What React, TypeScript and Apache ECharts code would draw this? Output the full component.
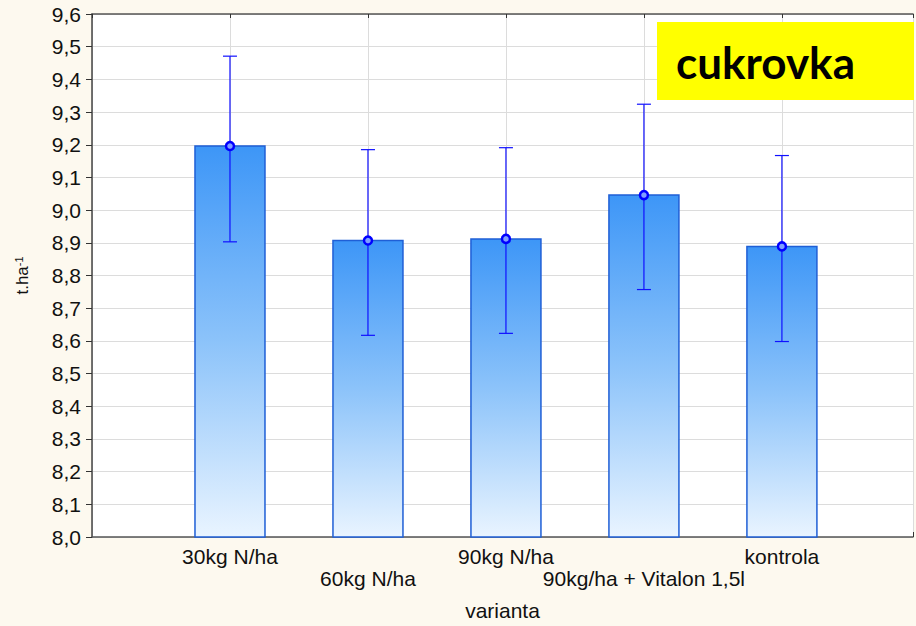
import React, { useEffect, useRef } from 'react';
import * as echarts from 'echarts';

const categories = ['30kg N/ha', '60kg N/ha', '90kg N/ha', '90kg/ha + Vitalon 1,5l', 'kontrola'];
const means = [9.196, 8.907, 8.912, 9.046, 8.889];
const lower = [8.903, 8.617, 8.623, 8.757, 8.598];
const upper = [9.471, 9.185, 9.191, 9.324, 9.167];
const yMin = 8.0;
const yMax = 9.6;
const yStep = 0.1;
const titleText = 'cukrovka';
const yName = 't.ha';
const xName = 'varianta';

const FONT = '"Liberation Sans", Arial, sans-serif';

export default function App() {
  const ref = useRef<HTMLDivElement>(null);
  useEffect(() => {
    if (!ref.current) return;
    const chart = echarts.init(ref.current, null, { renderer: 'svg' });
    const barData = categories.map((c, i) => [i + 1, means[i]]);
    const errData = categories.map((c, i) => [i + 1, lower[i], upper[i]]);
    const option: any = {
      animation: false,
      backgroundColor: '#fdf9ef',
      textStyle: { fontFamily: FONT },
      grid: { left: 92, top: 14, right: 0, bottom: 88, show: true, backgroundColor: '#ffffff', borderWidth: 0 },
      xAxis: [
        {
          type: 'value',
          min: 0,
          max: 5.95,
          interval: 1,
          name: xName,
          nameLocation: 'middle',
          nameGap: 63,
          nameTextStyle: { fontSize: 21, color: '#111', fontFamily: FONT },
          axisLine: { show: true, lineStyle: { color: '#555', width: 1.5 } },
          axisTick: { show: true, inside: true, length: 5, lineStyle: { color: '#333' } },
          splitLine: { show: true, lineStyle: { color: '#dcdcdc', width: 1 } },
          axisLabel: {
            show: true,
            fontSize: 21,
            color: '#111',
            fontFamily: FONT,
            margin: 8,
            lineHeight: 22,
            showMinLabel: false,
            formatter: (v: number) => {
              const i = Math.round(v) - 1;
              if (i < 0 || i >= categories.length) return '';
              return i % 2 === 1 ? '\n' + categories[i] : categories[i];
            },
          },
        },
        {
          type: 'value',
          position: 'top',
          min: 0,
          max: 5.95,
          interval: 1,
          axisLine: { show: true, lineStyle: { color: '#555', width: 1.5 } },
          axisTick: { show: true, inside: true, length: 4, lineStyle: { color: '#333' } },
          splitLine: { show: false },
          axisLabel: { show: false },
        },
      ],
      yAxis: {
        type: 'value',
        min: yMin,
        max: yMax,
        interval: yStep,
        name: yName + '{sup|-1}',
        nameLocation: 'middle',
        nameGap: 60,
        nameRotate: 90,
        nameTextStyle: {
          fontSize: 17,
          color: '#111',
          fontFamily: FONT,
          rich: { sup: { fontSize: 11, verticalAlign: 'top', padding: [0, 0, 8, 0], color: '#111', fontFamily: FONT } },
        },
        axisLine: { show: true, lineStyle: { color: '#444', width: 1.5 } },
        axisTick: { show: true, inside: false, length: 6, lineStyle: { color: '#333' } },
        splitLine: { show: true, lineStyle: { color: '#dcdcdc', width: 1.2 } },
        axisLabel: {
          fontSize: 21,
          color: '#111',
          fontFamily: FONT,
          margin: 11,
          formatter: (v: number) => v.toFixed(1).replace('.', ','),
        },
      },
      series: [
        {
          type: 'custom',
          data: barData,
          z: 2,
          renderItem: (params: any, api: any) => {
            const x = api.value(0);
            const v = api.value(1);
            const top = api.coord([x, v]);
            const base = api.coord([x, yMin]);
            const w = 70;
            return {
              type: 'rect',
              shape: { x: top[0] - w / 2, y: top[1], width: w, height: base[1] - top[1] },
              style: {
                fill: new echarts.graphic.LinearGradient(0, 0, 0, 1, [
                  { offset: 0, color: '#3d96f7' },
                  { offset: 0.5, color: '#8cc3fa' },
                  { offset: 1, color: '#e9f4ff' },
                ]),
                stroke: '#1f5fd6',
                lineWidth: 1.5,
              },
            };
          },
        },
        {
          type: 'custom',
          data: errData,
          z: 3,
          renderItem: (params: any, api: any) => {
            const x = api.value(0);
            const lo = api.coord([x, api.value(1)]);
            const hi = api.coord([x, api.value(2)]);
            const cw = 7;
            const st = { stroke: '#1010ff', lineWidth: 1.2 };
            return {
              type: 'group',
              children: [
                { type: 'line', shape: { x1: lo[0], y1: lo[1], x2: hi[0], y2: hi[1] }, style: st },
                { type: 'line', shape: { x1: lo[0] - cw, y1: lo[1], x2: lo[0] + cw, y2: lo[1] }, style: st },
                { type: 'line', shape: { x1: hi[0] - cw, y1: hi[1], x2: hi[0] + cw, y2: hi[1] }, style: st },
              ],
            };
          },
        },
        {
          type: 'scatter',
          data: barData,
          z: 4,
          symbol: 'circle',
          symbolSize: 8,
          itemStyle: { color: '#7f9fff', borderColor: '#0000ff', borderWidth: 2.5, opacity: 1 },
        },
      ],
      graphic: [
        {
          type: 'rect',
          shape: { x: 657, y: 22, width: 257, height: 78 },
          style: { fill: '#ffff00' },
          z: 10,
        },
        {
          type: 'text',
          x: 676,
          y: 62,
          z: 11,
          style: {
            text: titleText,
            fill: '#000',
            font: 'bold 44px Lato, "Open Sans", sans-serif',
            verticalAlign: 'middle',
          },
        },
      ],
    };
    chart.setOption(option);
    return () => chart.dispose();
  }, []);
  return <div ref={ref} style={{ position: 'absolute', left: 0, top: 0, width: 916, height: 626 }} />;
}
